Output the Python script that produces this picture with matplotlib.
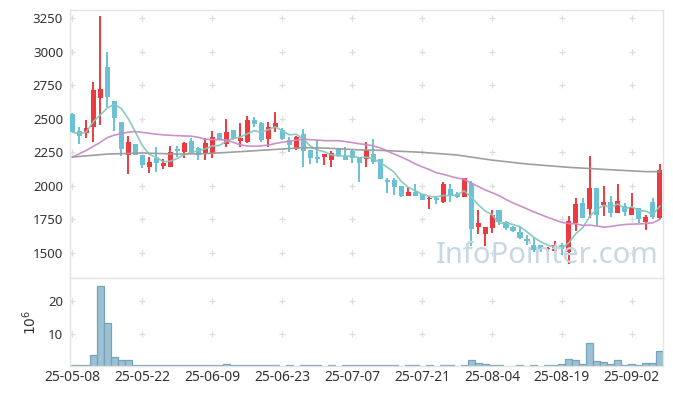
import numpy as np
import pandas as pd
import matplotlib
matplotlib.use("Agg")
import matplotlib.pyplot as plt

plt.rcParams['font.family'] = ['Noto Sans', 'DejaVu Sans']

# daily candles, 85 trading days (index 0 = 25-05-08)
opens = [2537, 2407, 2392, 2437, 2655, 2882, 2630, 2475, 2230, 2312,
         2230, 2137, 2205, 2150, 2140, 2274, 2255, 2334, 2279, 2247,
         2235, 2394, 2309, 2416, 2334, 2329, 2490, 2471, 2349, 2436,
         2416, 2342, 2275, 2386, 2267, 2215, 2217, 2193, 2280, 2225,
         2260, 2210, 2198, 2237, 2200, 2044, 2044, 1999, 1927, 1957,
         1937, 1900, 1912, 1882, 1977, 1939, 1920, 2024, 1696, 1642,
         1688, 1820, 1733, 1691, 1659, 1602, 1560, 1560, 1527, 1517,
         1560, 1510, 1721, 1870, 1825, 1982, 1857, 1882, 1800, 1850,
         1783, 1833, 1728, 1882, 1758]
highs = [2540, 2442, 2492, 2775, 3267, 2995, 2632, 2478, 2370, 2315,
         2232, 2212, 2287, 2200, 2300, 2297, 2329, 2359, 2292, 2359,
         2409, 2397, 2495, 2418, 2466, 2520, 2515, 2473, 2478, 2548,
         2428, 2361, 2371, 2421, 2270, 2342, 2240, 2260, 2282, 2292,
         2275, 2212, 2329, 2347, 2202, 2061, 2056, 2000, 1994, 2011,
         1940, 1924, 1924, 2026, 2011, 1957, 2058, 2036, 1818, 1691,
         1820, 1822, 1735, 1701, 1701, 1634, 1617, 1562, 1547, 1592,
         1572, 1775, 1907, 1912, 2222, 1984, 1999, 1924, 2014, 1870,
         1944, 1835, 1783, 1907, 2163]
lows = [2400, 2312, 2357, 2325, 2450, 2587, 2412, 2225, 2092, 2228,
        2130, 2095, 2100, 2125, 2137, 2217, 2205, 2237, 2193, 2193,
        2205, 2344, 2292, 2340, 2292, 2317, 2441, 2329, 2287, 2403,
        2342, 2255, 2267, 2143, 2160, 2168, 2153, 2143, 2212, 2193,
        2168, 2031, 2143, 2163, 2051, 1944, 1932, 1920, 1925, 1925,
        1893, 1825, 1865, 1875, 1877, 1912, 1918, 1550, 1645, 1552,
        1646, 1709, 1671, 1659, 1602, 1560, 1510, 1510, 1448, 1510,
        1485, 1420, 1666, 1763, 1760, 1705, 1776, 1771, 1800, 1776,
        1783, 1721, 1671, 1751, 1756]
closes = [2400, 2375, 2432, 2712, 2725, 2662, 2505, 2275, 2330, 2232,
          2155, 2180, 2167, 2167, 2250, 2260, 2322, 2247, 2230, 2322,
          2364, 2344, 2401, 2346, 2359, 2490, 2461, 2341, 2441, 2466,
          2349, 2307, 2361, 2262, 2210, 2200, 2237, 2247, 2230, 2193,
          2205, 2173, 2267, 2175, 2051, 2031, 1989, 1927, 1954, 1927,
          1895, 1912, 1895, 2014, 1927, 1920, 2056, 1679, 1723, 1691,
          1783, 1733, 1689, 1666, 1609, 1592, 1522, 1527, 1535, 1560,
          1527, 1738, 1865, 1763, 1982, 1783, 1882, 1795, 1887, 1808,
          1845, 1751, 1766, 1766, 2118]
# volume in millions
volume = [0.2, 0.2, 0.2, 3.5, 24.7, 13.3, 2.9, 1.7, 2.0, 0.4,
          0.4, 0.4, 0.2, 0.2, 0.4, 0.2, 0.4, 0.2, 0.2, 0.4,
          0.4, 0.2, 0.7, 0.2, 0.4, 0.4, 0.2, 0.4, 0.2, 0.2,
          0, 0.2, 0, 0.2, 0.2, 0.2, 0, 0.2, 0, 0.2,
          0.2, 0.2, 0.2, 0.4, 0.4, 0.2, 0.2, 0, 0.2, 0.2,
          0, 0.2, 0, 0.2, 0.2, 0, 0.2, 1.7, 0.8, 0.5,
          0.2, 0.2, 0, 0, 0.2, 0, 0.2, 0, 0.2, 0.2,
          0.5, 2.3, 1.7, 0.5, 7.0, 1.4, 1.1, 0.5, 1.7, 0.2,
          0.5, 0.2, 0.8, 0.8, 4.5]

# 20-day MA for the first 19 days (needs earlier data)
ma20_head = [2215, 2240, 2265, 2295, 2325, 2360, 2378, 2390, 2400, 2405,
             2398, 2392, 2385, 2380, 2377, 2374, 2372, 2370, 2362]
# long MA line
ma_long_idx = [0, 5, 10, 15, 19, 24, 30, 33, 36, 41, 44, 50, 55, 60, 65, 71, 76, 82, 84]
ma_long_val = [2215, 2237, 2245, 2237, 2240, 2255, 2275, 2284, 2282, 2268,
               2265, 2250, 2230, 2192, 2163, 2138, 2123, 2106, 2106]

tick_pos = [0, 10, 20, 30, 40, 50, 60, 70, 80]
tick_labels = ['25-05-08', '25-05-22', '25-06-09', '25-06-23', '25-07-07',
               '25-07-21', '25-08-04', '25-08-19', '25-09-02']
price_ticks = [1500, 1750, 2000, 2250, 2500, 2750, 3000, 3250]

df = pd.DataFrame({'o': opens, 'h': highs, 'l': lows, 'c': closes, 'v': volume})
x = np.arange(len(df))
ma5 = df['c'].rolling(5, min_periods=1).mean()
ma20 = df['c'].rolling(20).mean()
ma20.iloc[:19] = ma20_head

up_col = '#ee3a3f'
down_col = '#6cc1d6'
grid_col = '#dddddd'
spine_col = '#e4e4e4'

fig = plt.figure(figsize=(6.73, 3.96), dpi=100)
ax = fig.add_axes([70/673, 118/396, 593/673, 268/396])
axv = fig.add_axes([70/673, 30/396, 593/673, 88/396], sharex=ax)

# grid "+" marks
gx, gy = np.meshgrid(tick_pos, price_ticks)
ax.plot(gx.ravel(), gy.ravel(), '+', color=grid_col, ms=5, mew=0.9, zorder=0)
gx2, gy2 = np.meshgrid(tick_pos, [10, 20])
axv.plot(gx2.ravel(), gy2.ravel(), '+', color=grid_col, ms=5, mew=0.9, zorder=0)

up = df['c'] >= df['o']
cols = np.where(up, up_col, down_col)
body_lo = np.minimum(df['o'], df['c'])
body_h = np.maximum((df['c'] - df['o']).abs(), 8)
ax.vlines(x, df['l'], df['h'], colors=cols, lw=1.4, zorder=2)
ax.bar(x, body_h, bottom=body_lo, width=0.72, color=cols, zorder=3)

ax.plot(x, ma5, color='#83c8be', lw=1.2, zorder=4, alpha=0.95)
ax.plot(x, ma20, color='#c98cc6', lw=1.2, zorder=4, alpha=0.95)
ax.plot(ma_long_idx, ma_long_val, color='#9a9a9a', lw=1.2, zorder=4, alpha=0.95)

ax.text(0.805, 0.083, 'InfoPointer.com', transform=ax.transAxes, ha='center', va='center',
        fontsize=21, color='#c6d8e3', zorder=5)

ax.set_xlim(-0.35, 84.45)
ax.set_ylim(1314, 3310)
ax.set_yticks(price_ticks)
ax.tick_params(axis='y', length=0, labelsize=9.5, colors='#333333', pad=5)
ax.tick_params(axis='x', length=0, labelbottom=False)

vmask = df['v'] > 0
axv.bar(x[vmask], df['v'][vmask], width=1.0, color='#9cc1d2', edgecolor='#74a3bb', lw=0.9)
axv.set_ylim(0, 27.1)
axv.set_yticks([10, 20])
axv.set_xticks(tick_pos)
axv.set_xticklabels(tick_labels)
axv.tick_params(length=0, labelsize=9.5, colors='#333333', pad=5)
axv.tick_params(axis='x', labelsize=10, pad=3)
axv.set_ylabel(r'$10^6$', fontsize=10, color='#333333', labelpad=6)

for a in (ax, axv):
    for s in a.spines.values():
        s.set_color(spine_col)
        s.set_linewidth(1.0)

fig.savefig('out.png', dpi=100)
